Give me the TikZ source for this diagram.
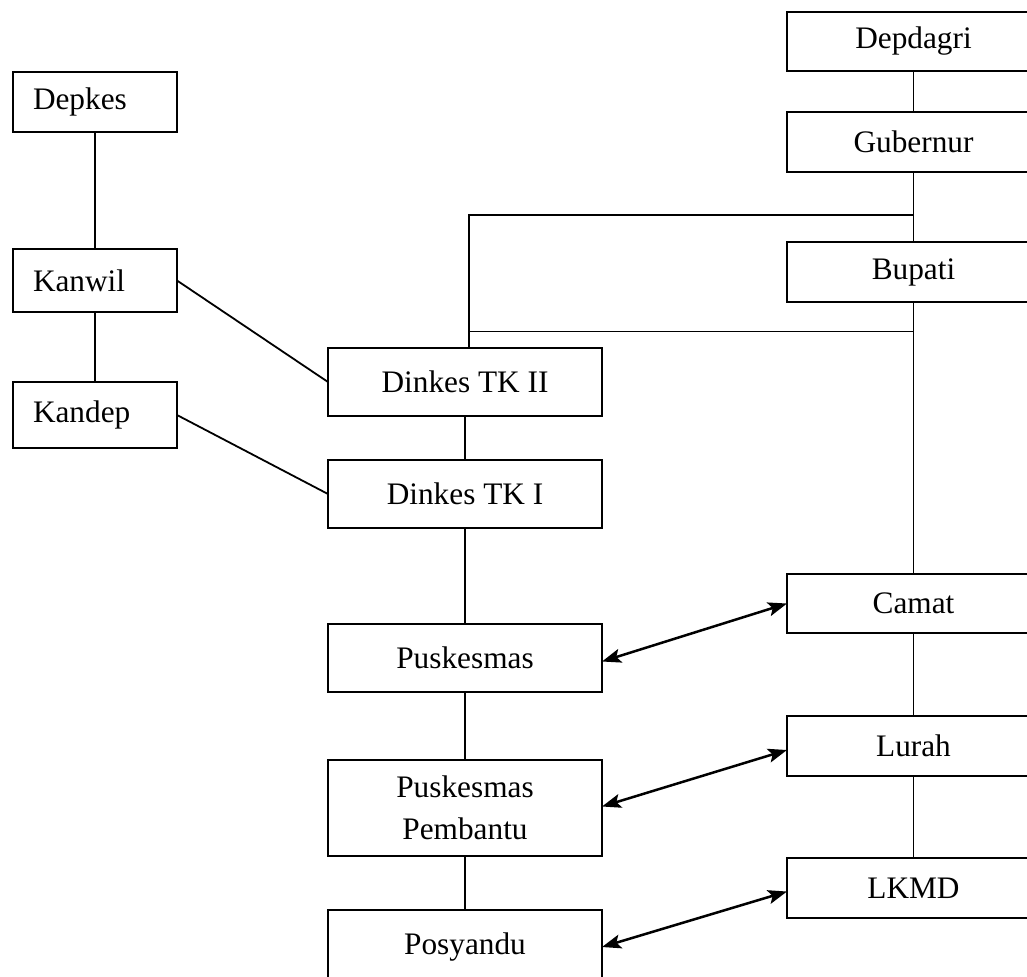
\documentclass[tikz,border=0pt]{standalone}
\usepackage{fontspec}
\setmainfont{Liberation Serif}
\usetikzlibrary{arrows.meta,calc}
\begin{document}
\begin{tikzpicture}[x=0.5pt,y=-0.5pt,
  box/.style={draw, line width=1.25pt, outer sep=0pt, inner sep=0pt, fill=white,
    font=\fontsize{15.65}{20.8}\selectfont},
  lbox/.style={box, text width=62pt, align=left, inner xsep=10pt},
  mbox/.style={box, minimum width=137pt, align=center},
  rbox/.style={box, minimum width=126.5pt, align=center},
  conn/.style={line width=0.9pt},
  arr/.style={line width=1.25pt, {Stealth[length=9.5pt,width=7pt,inset=2pt]}-{Stealth[length=9.5pt,width=7pt,inset=2pt]}}
]
\useasboundingbox (0,0) rectangle (1027,976);
\clip (0,0) rectangle (1027,976);
\fill[white] (0,0) rectangle (1027,976);

% left column
\node[lbox, minimum height=30pt] (depkes) at (95,102) {Depkes};
\node[lbox, minimum height=31.5pt] (kanwil) at (95,280.5) {Kanwil};
\node[lbox, minimum height=33pt] (kandep) at (95,415) {Kandep};

% right column
\node[rbox, minimum height=29.5pt] (depdagri) at (913.5,41.5) {Depdagri};
\node[rbox, minimum height=30pt] (gubernur) at (913.5,142) {Gubernur};
\node[rbox, minimum height=30pt] (bupati) at (913.5,272) {Bupati};
\node[rbox, minimum height=29.5pt] (camat) at (913.5,603.5) {Camat};
\node[rbox, minimum height=30pt] (lurah) at (913.5,746) {Lurah};
\node[rbox, minimum height=30pt] (lkmd) at (913.5,888) {LKMD};

% middle column
\node[mbox, minimum height=34pt] (dinkes2) at (465,382) {Dinkes TK II};
\node[mbox, minimum height=34pt] (dinkes1) at (465,494) {Dinkes TK I};
\node[mbox, minimum height=34pt] (pusk) at (465,658) {Puskesmas};
\node[mbox, minimum height=48pt] (pemb) at (465,808) {Puskesmas\\Pembantu};
\node[mbox, minimum height=37pt] (posy) at (465,947) {Posyandu};

% left connectors
\draw[conn] (depkes.south) -- (kanwil.north);
\draw[conn] (kanwil.south) -- (kandep.north);
\draw[conn] (kanwil.east) -- (dinkes2.west);
\draw[conn] (kandep.east) -- (dinkes1.west);

% right connectors
\draw[conn] (depdagri.south) -- (gubernur.north);
\draw[conn] (gubernur.south) -- (bupati.north);
\draw[conn] (bupati.south) -- (camat.north);
\draw[conn] (camat.south) -- (lurah.north);
\draw[conn] (lurah.south) -- (lkmd.north);

\coordinate (j1) at (913.5,215);
\coordinate (t1) at (469,215);
\coordinate (j2) at (913.5,331.5);
\draw[conn] (j1) -- (t1) -- (t1 |- dinkes2.north);
\draw[conn] (j2) -- (j2 -| t1);

% middle connectors
\draw[conn] (dinkes2.south) -- (dinkes1.north);
\draw[conn] (dinkes1.south) -- (pusk.north);
\draw[conn] (pusk.south) -- (pemb.north);
\draw[conn] (pemb.south) -- (posy.north);

% two-way arrows
\draw[arr] ($(pusk.east)+(0,3.5)$) -- (camat.west);
\draw[arr] ($(pemb.east)+(0,-1.5)$) -- ($(lurah.west)+(0,4)$);
\draw[arr] (posy.east) -- ($(lkmd.west)+(0,3.5)$);
\end{tikzpicture}
\end{document}
